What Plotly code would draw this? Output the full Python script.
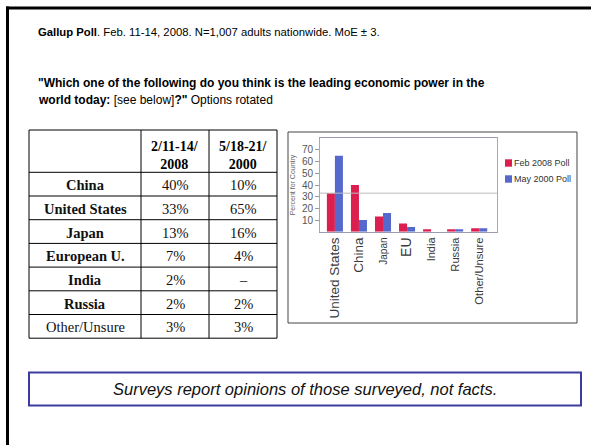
import plotly.graph_objects as go

W, H = 591, 445

# ---------------- data ----------------
table_rows = ["China", "United States", "Japan", "European U.", "India", "Russia", "Other/Unsure"]
table_row_bold = [True, True, True, True, True, True, False]
table_feb2008 = [40, 33, 13, 7, 2, 2, 3]
table_may2000 = [10, 65, 16, 4, None, 2, 3]
table_headers = ["", "2/11-14/<br>2008", "5/18-21/<br>2000"]

chart_categories = ["United States", "China", "Japan", "EU", "India", "Russia", "Other/Unsure"]
chart_feb2008 = [33, 40, 13, 7, 2, 2, 3]
chart_may2000 = [65, 10, 16, 4, None, 2, 3]
chart_label_sizes = [13.5, 13.5, 10, 14, 11, 11.2, 11.2]
series_names = ["Feb 2008 Poll", "May 2000 Poll"]
reference_value = 33
y_ticks = [10, 20, 30, 40, 50, 60, 70]

# ---------------- helpers ----------------
def fx(p):
    return p / W

def fy(p):
    return 1 - p / H

SANS = "Liberation Sans, Arial, sans-serif"
SERIF = "Liberation Serif, Times New Roman, serif"
RED = "#dc1f4f"
BLUE = "#5568cc"
series_colors = [RED, BLUE]

fig = go.Figure()

# ---------------- bar chart ----------------
fig.add_trace(go.Bar(x=chart_categories, y=chart_feb2008, name=series_names[0],
                     marker=dict(color=RED, line=dict(width=0))))
fig.add_trace(go.Bar(x=chart_categories, y=chart_may2000, name=series_names[1],
                     marker=dict(color=BLUE, line=dict(width=0))))

ticktext = [f'<span style="font-size:{s}px">{c}</span>' for c, s in zip(chart_categories, chart_label_sizes)]

fig.update_layout(
    width=W, height=H,
    margin=dict(l=0, r=0, t=0, b=0),
    paper_bgcolor="white",
    plot_bgcolor="white",
    barmode="group",
    bargap=0.333,
    bargroupgap=0,
    showlegend=False,
    font=dict(family=SANS, color="#333"),
    xaxis=dict(
        domain=[fx(320), fx(497)],
        range=[-0.62, 6.74],
        tickmode="array",
        tickvals=chart_categories,
        ticktext=ticktext,
        tickangle=-90,
        tickfont=dict(family=SANS, size=12, color="#3a3a3a"),
        showline=True, linecolor="#9a9ab0", linewidth=1, mirror=True,
        ticks="", showgrid=False, fixedrange=True,
    ),
    yaxis=dict(
        domain=[fy(231.7), fy(138.3)],
        range=[0, 80],
        tickmode="array",
        tickvals=y_ticks,
        tickfont=dict(family=SANS, size=10, color="#555"),
        ticks="outside", ticklen=4, tickcolor="#999",
        showline=True, linecolor="#aaa", linewidth=1, mirror=True,
        showgrid=False, zeroline=False,
        title=dict(text="Percent for Country", font=dict(family=SANS, size=7, color="#666"), standoff=5),
    ),
)

# reference line
fig.add_shape(type="line", xref="paper", yref="y", x0=fx(320), x1=fx(497),
              y0=reference_value, y1=reference_value, line=dict(color="#bbbbbb", width=1))

# legend (compact, square adjacent to text as in the reference)
for i, (name, col) in enumerate(zip(series_names, series_colors)):
    cy = 163 + 16 * i
    fig.add_shape(type="rect", xref="paper", yref="paper",
                  x0=fx(505), x1=fx(512), y0=fy(cy + 3.7), y1=fy(cy - 3.7),
                  fillcolor=col, line=dict(width=0))
    fig.add_annotation(xref="paper", yref="paper", x=fx(512), y=fy(cy), xanchor="left", yanchor="middle",
                       showarrow=False, text=name, font=dict(family=SANS, size=9, color="#333"))

# chart frame
fig.add_shape(type="rect", xref="paper", yref="paper", x0=fx(288), x1=fx(577), y0=fy(323), y1=fy(132),
              line=dict(color="#444", width=1))

# ---------------- table ----------------
col_w = [112, 68, 68]
tx0, ty0 = 29, 130
header_h, row_h = 42.3, 23.7
col_edges = [tx0]
for w in col_w:
    col_edges.append(col_edges[-1] + w)
row_edges = [ty0, ty0 + header_h]
for _ in table_rows:
    row_edges.append(row_edges[-1] + row_h)

for xe in col_edges:
    fig.add_shape(type="line", xref="paper", yref="paper", x0=fx(xe), x1=fx(xe),
                  y0=fy(row_edges[0]), y1=fy(row_edges[-1]), line=dict(color="black", width=1))
for ye in row_edges:
    fig.add_shape(type="line", xref="paper", yref="paper", x0=fx(col_edges[0]), x1=fx(col_edges[-1]),
                  y0=fy(ye), y1=fy(ye), line=dict(color="black", width=1))

def col_center(j):
    return (col_edges[j] + col_edges[j + 1]) / 2

for j, htxt in enumerate(table_headers):
    if htxt:
        fig.add_annotation(xref="paper", yref="paper", x=fx(col_center(j)), y=fy(155.5),
                           xanchor="center", yanchor="middle", showarrow=False, align="center",
                           text=f"<b>{htxt}</b>", font=dict(family=SERIF, size=14, color="black"))

def pct(v):
    return "–" if v is None else f"{v}%"

for i, name in enumerate(table_rows):
    cy = row_edges[i + 1] + row_h / 2 + 1
    cells = [f"<b>{name}</b>" if table_row_bold[i] else name, pct(table_feb2008[i]), pct(table_may2000[i])]
    for j, txt in enumerate(cells):
        fig.add_annotation(xref="paper", yref="paper", x=fx(col_center(j)), y=fy(cy),
                           xanchor="center", yanchor="middle", showarrow=False,
                           text=txt, font=dict(family=SERIF, size=14.5, color="#111"))

# slide border (top and left)
fig.add_shape(type="rect", xref="paper", yref="paper", x0=fx(6), x1=1, y0=fy(9.5), y1=fy(6.5),
              fillcolor="black", line=dict(width=0))
fig.add_shape(type="rect", xref="paper", yref="paper", x0=fx(6), x1=fx(9), y0=0, y1=fy(6.5),
              fillcolor="black", line=dict(width=0))

# caption box
fig.add_shape(type="rect", xref="paper", yref="paper", x0=fx(29), x1=fx(581), y0=fy(405.5), y1=fy(372.5),
              line=dict(color="#3c3c9e", width=2))

# header texts
fig.add_annotation(xref="paper", yref="paper", x=fx(36), y=fy(32), xanchor="left", yanchor="middle",
                   showarrow=False, align="left",
                   text="<b>Gallup Poll</b>. Feb. 11-14, 2008. N=1,007 adults nationwide. MoE ± 3.",
                   font=dict(family=SANS, size=11.3, color="black"))
fig.add_annotation(xref="paper", yref="paper", x=fx(36), y=fy(83), xanchor="left", yanchor="middle",
                   showarrow=False, align="left",
                   text="<b>\"Which one of the following do you think is the leading economic power in the</b>",
                   font=dict(family=SANS, size=12, color="black"))
fig.add_annotation(xref="paper", yref="paper", x=fx(36), y=fy(100), xanchor="left", yanchor="middle",
                   showarrow=False, align="left",
                   text="<b>world today:</b> [see below]<b>?\"</b> Options rotated",
                   font=dict(family=SANS, size=12, color="black"))

# caption text
fig.add_annotation(xref="paper", yref="paper", x=fx(305), y=fy(389), xanchor="center", yanchor="middle",
                   showarrow=False,
                   text="<i>Surveys report opinions of those surveyed, not facts.</i>",
                   font=dict(family=SANS, size=16.5, color="#111"))

fig.write_html("out.html", config={"displayModeBar": False},
               post_script="document.body.style.margin='0px';document.body.style.overflow='hidden';")
